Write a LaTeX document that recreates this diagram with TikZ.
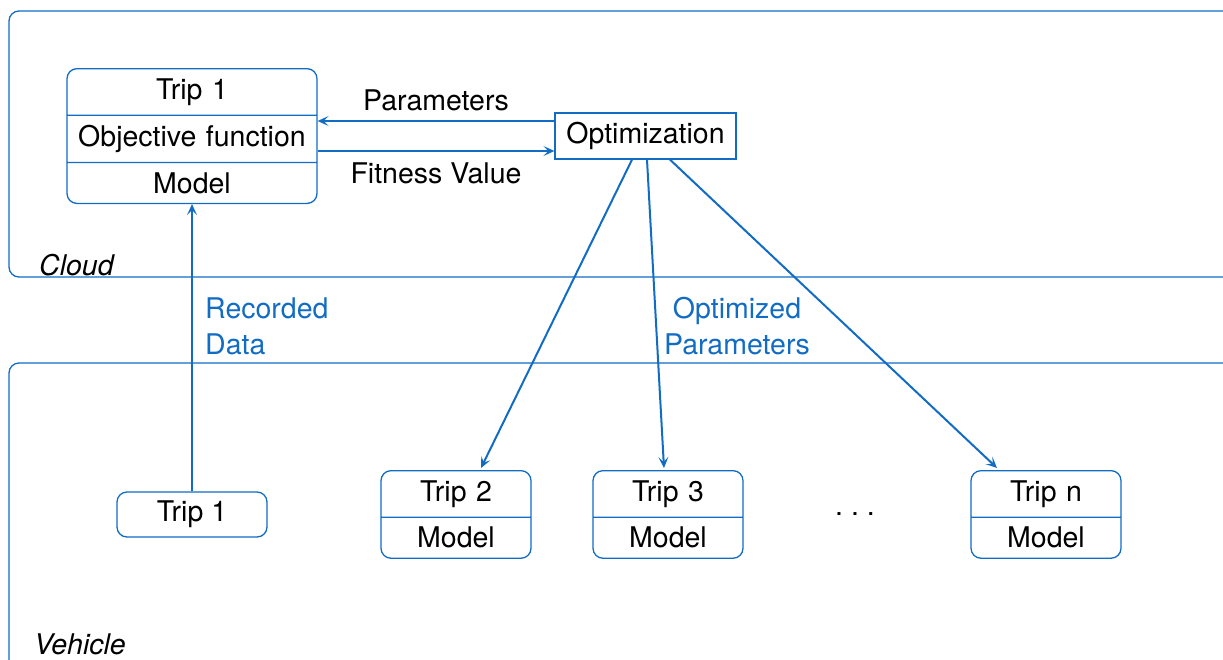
\documentclass[tikz,border=0pt]{standalone}
\usepackage{fontspec}
\setmainfont{TeX Gyre Heros}
\usetikzlibrary{shapes.multipart,arrows.meta,calc}
\definecolor{cblue}{RGB}{18,108,196}
\begin{document}
\begin{tikzpicture}[x=1pt,y=-1pt,
  font=\fontsize{28.5}{36}\selectfont,
  zone/.style={draw=cblue,line width=1.3pt,rounded corners=10pt},
  zonelabel/.style={font=\fontsize{28.5}{36}\selectfont\itshape,anchor=west,inner sep=0pt},
  tripbox/.style={draw=cblue,line width=1.3pt,rounded corners=10pt,
    rectangle split,rectangle split parts=#1,
    text width=134pt,align=center,inner xsep=8pt,inner ysep=9.2pt},
  optbox/.style={draw=cblue,line width=1.3pt,minimum width=181pt,minimum height=46pt,inner sep=0pt},
  flow/.style={draw=cblue,line width=2pt,-{Stealth[length=11pt,width=10pt,inset=5pt]}},
  bluetext/.style={text=cblue,inner sep=0pt},
  plain/.style={inner sep=0pt}]
\clip (0,0) rectangle (1223,659);

% regions
\draw[zone] (9,11) rectangle (1236,277);
\draw[zone] (9,363) rectangle (1236,680);
\node[zonelabel] (cloudlbl) at (39,265) {Cloud};
\node[zonelabel] (vehlbl) at (34,644) {Vehicle};

% cloud side
\node[tripbox=3,text width=234pt,anchor=north] (ctrip) at (192,68)
  {Trip 1\nodepart{two}Objective function\nodepart{three}Model};
\node[optbox] (opt) at (645.5,136) {Optimization};

% vehicle side
\node[draw=cblue,line width=1.3pt,rounded corners=10pt,minimum width=150pt,minimum height=45pt,inner sep=0pt]
  (vtrip1) at (192,514.5) {Trip 1};
\node[tripbox=2,anchor=north] (vtrip2) at (456,470) {Trip 2\nodepart{two}Model};
\node[tripbox=2,anchor=north] (vtrip3) at (668,470) {Trip 3\nodepart{two}Model};
\node[tripbox=2,anchor=north] (vtripn) at (1046,470) {Trip n\nodepart{two}Model};
\node[plain] (dots) at (855,514) {.\hspace{8pt}.\hspace{8pt}.};

% exchange between model and optimizer
\draw[flow] (opt.west |- 0,121) -- (ctrip.east |- 0,121);
\draw[flow] (ctrip.east |- 0,151) -- (opt.west |- 0,151);
\node[plain] (plbl) at (436,100) {Parameters};
\node[plain] (flbl) at (436,173) {Fitness Value};

% uploads and downloads
\draw[flow] (vtrip1.north) -- (ctrip.south);
\node[bluetext,anchor=west,align=left] (reclbl) at (205,326) {Recorded\\Data};
\draw[flow] ($(opt.south)+(-13.5,0)$) -- ($(vtrip2.north)+(25,-2)$);
\draw[flow] ($(opt.south)+(1.5,0)$) -- ($(vtrip3.north)+(-4,-2)$);
\draw[flow] ($(opt.south)+(24.5,0)$) -- ($(vtripn.north)+(-49,-2)$);
\node[bluetext,align=center] (optlbl) at (737,326) {Optimized\\Parameters};
\end{tikzpicture}
\end{document}
